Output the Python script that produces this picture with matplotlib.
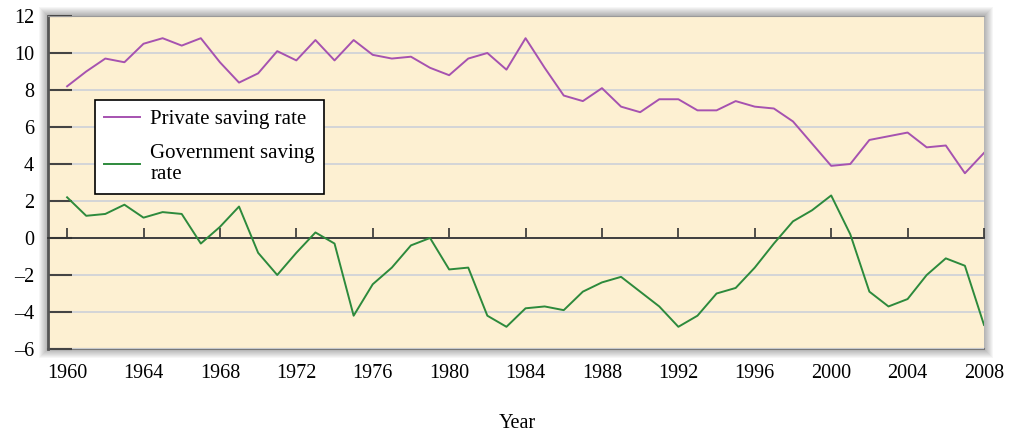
import matplotlib.pyplot as plt
from matplotlib.patches import Rectangle

plt.rcParams['font.family'] = ['Liberation Serif', 'DejaVu Serif']
plt.rcParams['font.size'] = 14.5

# Datos (porcentaje del PIB)
years = list(range(1960, 2009))
private_rate = [8.2, 9.0, 9.7, 9.5, 10.5, 10.8, 10.4, 10.8, 9.5, 8.4,
                8.9, 10.1, 9.6, 10.7, 9.6, 10.7, 9.9, 9.7, 9.8, 9.2,
                8.8, 9.7, 10.0, 9.1, 10.8, 9.2, 7.7, 7.4, 8.1, 7.1,
                6.8, 7.5, 7.5, 6.9, 6.9, 7.4, 7.1, 7.0, 6.3, 5.1,
                3.9, 4.0, 5.3, 5.5, 5.7, 4.9, 5.0, 3.5, 4.6]
gov_rate = [2.2, 1.2, 1.3, 1.8, 1.1, 1.4, 1.3, -0.3, 0.6, 1.7,
            -0.8, -2.0, -0.8, 0.3, -0.3, -4.2, -2.5, -1.6, -0.4, 0.0,
            -1.7, -1.6, -4.2, -4.8, -3.8, -3.7, -3.9, -2.9, -2.4, -2.1,
            -2.9, -3.7, -4.8, -4.2, -3.0, -2.7, -1.6, -0.3, 0.9, 1.5,
            2.3, 0.2, -2.9, -3.7, -3.3, -2.0, -1.1, -1.5, -4.7]
xticks = list(range(1960, 2009, 4))
yticks = list(range(-6, 13, 2))

W, H = 1016, 434
fig = plt.figure(figsize=(W / 100, H / 100), dpi=100)
x0, x1, y0, y1 = 48, 984, 16, 349
pos = [x0 / W, 1 - y1 / H, (x1 - x0) / W, (y1 - y0) / H]

# sombra suave alrededor del área del gráfico
for k in range(1, 10):
    fig.patches.append(Rectangle(((x0 - k) / W, 1 - (y1 + k) / H), (x1 - x0 + 2 * k) / W,
                                 (y1 - y0 + 2 * k) / H, transform=fig.transFigure,
                                 facecolor='black', edgecolor='none', alpha=0.035, zorder=-5))

ax = fig.add_axes(pos)
ax.set_zorder(1)
ax.set_facecolor('#fdf0d2')

ax.plot(years, private_rate, color='#a652b0', lw=1.4, label='Private saving rate', zorder=3)
ax.plot(years, gov_rate, color='#2d8a3c', lw=1.4, label='Government saving\nrate', zorder=3)

ax.set_xlim(1959, 2008)
ax.set_ylim(-6, 12)
ax.set_yticks(yticks)
ax.set_yticklabels([str(v).replace('-', '\u2013') for v in yticks])
ax.yaxis.grid(True, color='#d0d3d8', lw=1.3)
ax.set_axisbelow(True)

ax.spines['bottom'].set_position(('data', 0))
ax.spines['bottom'].set_color('#333333')
ax.spines['bottom'].set_linewidth(1.3)
ax.spines['left'].set_color('#555555')
ax.spines['left'].set_linewidth(2)
ax.spines['top'].set_color('#9a9a9a')
ax.spines['right'].set_visible(False)

ax.set_xticks(xticks)
ax.tick_params(axis='x', direction='in', length=7, width=1.2, color='#333333', labelbottom=False)
ax.tick_params(axis='y', direction='in', length=17, width=1.5, color='#444444', pad=10, labelsize=14.5)

sec = ax.secondary_xaxis('bottom')
sec.set_xticks(xticks)
sec.tick_params(length=0, pad=11, labelsize=14.5)
sec.spines['bottom'].set_color('#777777')
sec.spines['bottom'].set_linewidth(1.5)

leg = ax.legend(loc='upper left', bbox_to_anchor=((95 - x0) / (x1 - x0), (y1 - 100) / (y1 - y0)),
                borderaxespad=0, fancybox=False, framealpha=1, edgecolor='black',
                fontsize=15, handlelength=1.7, handletextpad=0.5, borderpad=0.45,
                labelspacing=0.7)
leg.get_frame().set_linewidth(1.2)

fig.text(517 / W, 1 - 423 / H, 'Year', ha='center', va='center', fontsize=14.5)

fig.savefig('out.png', dpi=100)
